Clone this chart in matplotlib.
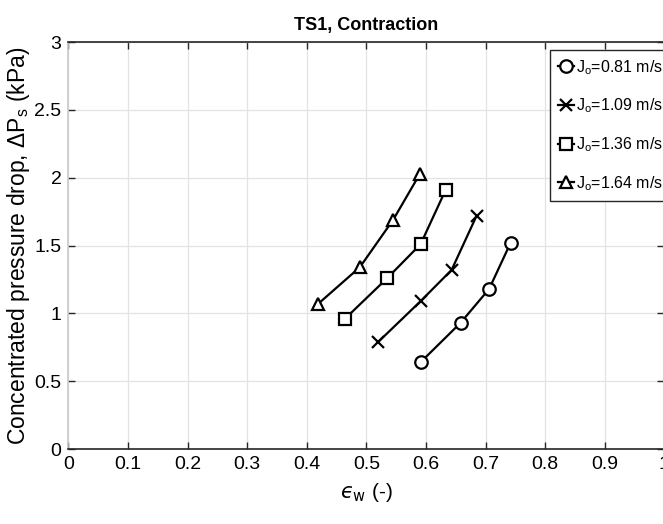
import matplotlib
matplotlib.use("Agg")
import matplotlib.pyplot as plt

plt.rcParams["font.family"] = ["Liberation Sans", "DejaVu Sans"]
plt.rcParams["mathtext.fontset"] = "custom"
plt.rcParams["mathtext.rm"] = "Liberation Sans"
plt.rcParams["mathtext.it"] = "Liberation Sans:italic"

# superficial oil velocities and measured points (void fraction vs pressure drop)
labels = [r"J$_{\mathrm{o}}$=0.81 m/s", r"J$_{\mathrm{o}}$=1.09 m/s",
          r"J$_{\mathrm{o}}$=1.36 m/s", r"J$_{\mathrm{o}}$=1.64 m/s"]
eps_081 = [0.591, 0.658, 0.706, 0.742]
dp_081 = [0.64, 0.93, 1.18, 1.52]
eps_109 = [0.520, 0.591, 0.643, 0.685]
dp_109 = [0.79, 1.09, 1.32, 1.72]
eps_136 = [0.464, 0.535, 0.591, 0.633]
dp_136 = [0.96, 1.26, 1.51, 1.91]
eps_164 = [0.419, 0.489, 0.545, 0.590]
dp_164 = [1.07, 1.34, 1.69, 2.03]

xticks = [0, 0.1, 0.2, 0.3, 0.4, 0.5, 0.6, 0.7, 0.8, 0.9, 1]
yticks = [0, 0.5, 1, 1.5, 2, 2.5, 3]

fig = plt.figure(figsize=(6.63, 5.24), dpi=100)
ax = fig.add_axes([0.1033, 0.1431, 0.8987, 0.7767])

series = [(eps_081, dp_081, "o"), (eps_109, dp_109, "x"),
          (eps_136, dp_136, "s"), (eps_164, dp_164, "^")]
for (x, y, m), lab in zip(series, labels):
    ax.plot(x, y, marker=m, color="black", lw=1.6, ms=9 if m != "s" else 8,
            mew=1.6, mfc="white" if m != "x" else "black", label=lab)

ax.set_xlim(0, 1)
ax.set_ylim(0, 3)
ax.set_xticks(xticks)
ax.set_xticklabels(["0", "0.1", "0.2", "0.3", "0.4", "0.5", "0.6", "0.7", "0.8", "0.9", "1"])
ax.set_yticks(yticks)
ax.set_yticklabels(["0", "0.5", "1", "1.5", "2", "2.5", "3"])
ax.grid(True, color="#e3e3e3", lw=0.9)
ax.set_axisbelow(True)
ax.tick_params(direction="in", length=5, width=1, labelsize=14, color="#262626",
               top=True, right=True, pad=5)
for s in ["top", "bottom", "right"]:
    ax.spines[s].set_color("#262626")
ax.spines["left"].set_color("#c8c8c8")
for s in ax.spines.values():
    s.set_linewidth(1.2)

ax.set_title("TS1, Contraction", fontsize=13, fontweight="bold", pad=9)
ax.set_xlabel("$\u03f5_{\\mathrm{w}}$ (-)", fontsize=15, labelpad=6,
              math_fontfamily="dejavusans")
ax.set_ylabel(r"Concentrated pressure drop, $\Delta$P$_{\mathrm{s}}$ (kPa)", fontsize=16.5)
ax.yaxis.set_label_coords(-0.062, 0.5)

leg = ax.legend(loc="upper left", bbox_to_anchor=(550 / 663, 1 - 50 / 524),
                bbox_transform=fig.transFigure, fontsize=11.5, handlelength=1.0,
                handletextpad=0.1, borderpad=0.5, labelspacing=1.25,
                borderaxespad=0, fancybox=False, framealpha=1)
leg.get_frame().set_edgecolor("#262626")
leg.get_frame().set_linewidth(1.0)

fig.savefig("out.png", dpi=100)
